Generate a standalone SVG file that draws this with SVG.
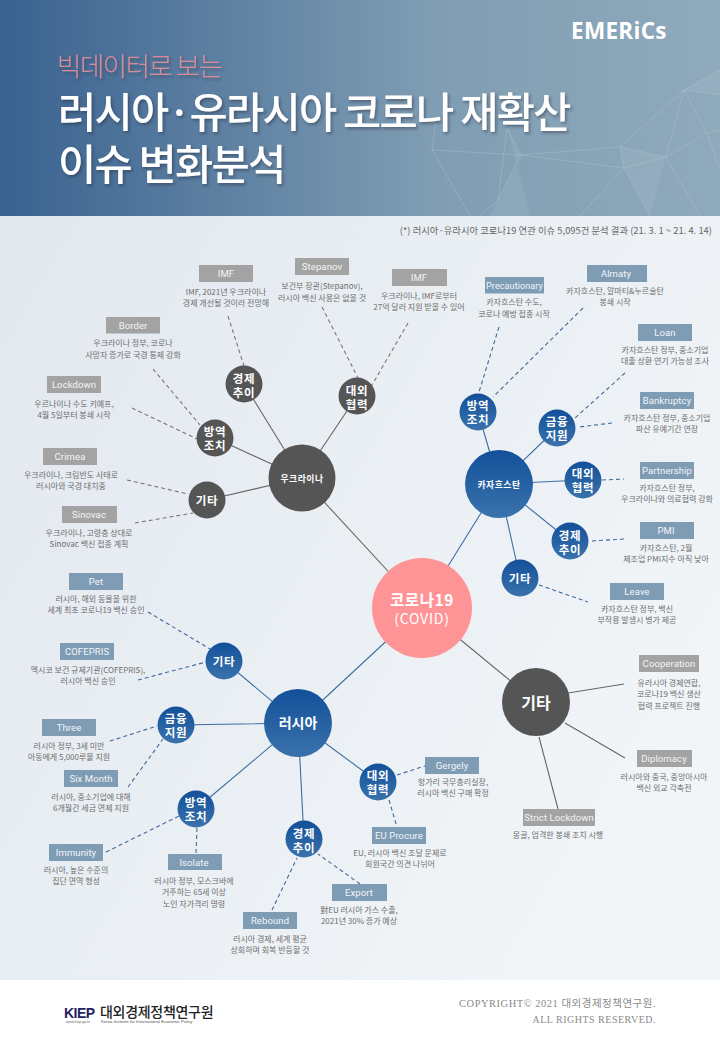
<svg xmlns="http://www.w3.org/2000/svg" width="720" height="1040" viewBox="0 0 720 1040">
<style>
text{font-family:"Noto Sans CJK KR","Noto Sans",sans-serif}
.d{font-size:8px;fill:#6e6e6e;text-anchor:middle}
.l{font-size:9.5px;fill:#f2f5f8;text-anchor:middle;font-family:Roboto,"Liberation Sans",sans-serif;letter-spacing:.1px}
.g{fill:#a3a3a3}.b{fill:#7f9cb5}
.n{font-size:11.5px;font-weight:700;fill:#fff;text-anchor:middle;letter-spacing:.7px}
.s{stroke-width:1.1;fill:none}.sg{stroke:#666}.sb{stroke:#3d6ea6}
.dg{stroke:#777;stroke-width:1.1;stroke-dasharray:4 3;fill:none}
.db{stroke:#3f6a9c;stroke-width:1.1;stroke-dasharray:4 3;fill:none}
.t{fill:#fff;font-weight:500;filter:url(#sh)}
.net{stroke:#c3d3dc;stroke-width:.7;fill:none;opacity:.4}
</style>
<defs>
<linearGradient id="hd" x1="0" x2="1" y1="0" y2="0"><stop offset="0" stop-color="#3a6290"/><stop offset=".6" stop-color="#7f9db3"/><stop offset="1" stop-color="#8faabb"/></linearGradient>
<linearGradient id="bd" x1="0" x2="1" y1="0" y2=".6"><stop offset="0" stop-color="#e2e8ef"/><stop offset="1" stop-color="#f1f5f8"/></linearGradient>
<linearGradient id="bl" x1="0" x2="0" y1="0" y2="1"><stop offset="0" stop-color="#13509a"/><stop offset="1" stop-color="#3a72ab"/></linearGradient>
<filter id="sh" x="-5%" y="-20%" width="110%" height="140%"><feDropShadow dx="1.5" dy="2" stdDeviation="1.5" flood-color="#223" flood-opacity=".45"/></filter>
</defs>
<rect id="header-bg" width="720" height="216" fill="url(#hd)"/>
<rect id="body-bg" y="216" width="720" height="764" fill="url(#bd)"/>
<rect id="footer-bg" y="980" width="720" height="60" fill="#fff"/>
<path fill="#c3d3dc" opacity=".15" d="M507 128L521 155L498 200L490 216L530 216ZM684 90L720 70L720 95ZM620 147L666 157L650 216L624 168Z"/>
<path class="net" d="M432 150L521 155L620 147L684 90L720 70M432 150L436 120M432 150L470 216M507 128L521 155L498 200L507 128M521 155L624 168L650 216M620 147L666 157L684 90L707 133L720 170M620 147L624 168L666 157L700 216M684 90L720 95M707 133L666 157M498 200L480 216M624 168L580 216M707 133L720 130"/>
<text x="571" y="39" font-size="22.500" font-weight="700" fill="#fff" style="font-family:'Open Sans','Noto Sans',sans-serif" letter-spacing=".3">EMERiCs</text>
<text x="57" y="76" font-size="26.5" fill="#d98b9c" font-weight="300" letter-spacing="-1.500" style="filter:url(#sh)">빅데이터로 보는</text>
<text class="t" x="58" y="128" font-size="41.500" letter-spacing="-1.700">러시아·유라시아 코로나 재확산</text>
<text class="t" x="58" y="180" font-size="41.500" letter-spacing="-1.700">이슈 변화분석</text>
<text x="712" y="234" font-size="9.300" fill="#666" text-anchor="end" letter-spacing=".05">(*) 러시아·유라시아  코로나19  연관 이슈  5,095건  분석 결과 (21. 3. 1 ~ 21. 4. 14)</text>

<g id="connectors">
<path class="s sg" d="M422 608L302 478M422 608L536 702M302 478L244 384M302 478L357 396M302 478L215 438M302 478L207 500M568 693L624 684M565 723L625 758M539 737L558 809"/>
<path class="s sb" d="M422 608L499 484M422 608L298 723M499 484L478 412M499 484L557 428M499 484L583 480M499 484L570 541M499 484L520 578M298 723L224 661M298 723L176 725M298 723L196 809M298 723L304 839M298 723L378 782"/>
<path class="dg" d="M228 316L244 366M322 307L358 378M408 323L372 385M153 369L200 425M132 408L197 439M127 480L188 494M135 523L193 513"/>
<path class="db" d="M499 327L479 392M583 308L493 397M625 373L575 418M612 423L579 427M602 480L624 479M592 541L624 539M539 585L588 602M148 612L210 649M138 680L206 662M110 741L157 726M128 787L163 739M106 852L179 816M197 828L196 853M272 910L297 858M360 884L318 854M397 775L425 766M389 800L397 827"/>
</g>

<g id="covid"><circle cx="422" cy="608" r="50" fill="#ff9497"/><text x="422" y="606" font-size="15.500" font-weight="700" fill="#fff" text-anchor="middle" letter-spacing=".6">코로나19</text><text x="422" y="624" font-size="14" fill="#fff" text-anchor="middle" letter-spacing=".8">(COVID)</text></g>
<g id="ukraine"><circle cx="302" cy="478" r="33.5" fill="#555"/><text x="302" y="482" font-size="8.8" font-weight="700" fill="#fff" text-anchor="middle" letter-spacing=".5">우크라이나</text></g>
<g id="kazakhstan"><circle cx="499" cy="484" r="34" fill="url(#bl)"/><text x="499" y="488" font-size="8.8" font-weight="700" fill="#fff" text-anchor="middle" letter-spacing=".5">카자흐스탄</text></g>
<g id="russia"><circle cx="298" cy="723" r="34" fill="url(#bl)"/><text x="298" y="728" font-size="14" font-weight="700" fill="#fff" text-anchor="middle">러시아</text></g>
<g id="etc"><circle cx="536" cy="702" r="34" fill="#555"/><text x="536" y="709" font-size="16" font-weight="700" fill="#fff" text-anchor="middle">기타</text></g>

<g id="ua-econ"><circle cx="244" cy="384" r="18.5" fill="#555"/><text class="n" x="244" y="382.500">경제</text><text class="n" x="244" y="396.500">추이</text></g>
<g id="ua-diplo"><circle cx="357" cy="396" r="18.5" fill="#555"/><text class="n" x="357" y="394.500">대외</text><text class="n" x="357" y="408.500">협력</text></g>
<g id="ua-quar"><circle cx="215" cy="438" r="18.5" fill="#555"/><text class="n" x="215" y="436">방역</text><text class="n" x="215" y="450">조치</text></g>
<g id="ua-etc"><circle cx="207" cy="500" r="18.5" fill="#555"/><text class="n" x="207" y="504.5">기타</text></g>
<g id="kz-quar"><circle cx="478" cy="412" r="18.5" fill="url(#bl)"/><text class="n" x="478" y="410">방역</text><text class="n" x="478" y="424">조치</text></g>
<g id="kz-fin"><circle cx="557" cy="428" r="18.5" fill="url(#bl)"/><text class="n" x="557" y="426">금융</text><text class="n" x="557" y="440">지원</text></g>
<g id="kz-diplo"><circle cx="583" cy="480" r="18.5" fill="url(#bl)"/><text class="n" x="583" y="478">대외</text><text class="n" x="583" y="492">협력</text></g>
<g id="kz-econ"><circle cx="570" cy="541" r="18.5" fill="url(#bl)"/><text class="n" x="570" y="539.500">경제</text><text class="n" x="570" y="553.500">추이</text></g>
<g id="kz-etc"><circle cx="520" cy="578" r="18.5" fill="url(#bl)"/><text class="n" x="520" y="582.5">기타</text></g>
<g id="ru-etc"><circle cx="224" cy="661" r="18.5" fill="url(#bl)"/><text class="n" x="224" y="665.5">기타</text></g>
<g id="ru-fin"><circle cx="176" cy="725" r="18.5" fill="url(#bl)"/><text class="n" x="176" y="723">금융</text><text class="n" x="176" y="737">지원</text></g>
<g id="ru-quar"><circle cx="196" cy="809" r="18.5" fill="url(#bl)"/><text class="n" x="196" y="807">방역</text><text class="n" x="196" y="821">조치</text></g>
<g id="ru-econ"><circle cx="304" cy="839" r="18.5" fill="url(#bl)"/><text class="n" x="304" y="837.500">경제</text><text class="n" x="304" y="851.500">추이</text></g>
<g id="ru-diplo"><circle cx="378" cy="782" r="18.5" fill="url(#bl)"/><text class="n" x="378" y="780">대외</text><text class="n" x="378" y="794">협력</text></g>

<g id="imf1"><rect class="g" x="199" y="265" width="54" height="17"/><text class="l" x="226" y="277">IMF</text><text class="d" x="226" y="295">IMF, 2021년 우크라이나</text><text class="d" x="226" y="306">경제 개선될 것이라 전망해</text></g>
<g id="stepanov"><rect class="g" x="295" y="258" width="54" height="17"/><text class="l" x="322" y="270">Stepanov</text><text class="d" x="322" y="289">보건부 장관(Stepanov),</text><text class="d" x="322" y="301">러시아 백신 사용은 없을 것</text></g>
<g id="border"><rect class="g" x="106" y="317" width="54" height="16.500"/><text class="l" x="133" y="329">Border</text><text class="d" x="133" y="346">우크라이나 정부, 코로나</text><text class="d" x="133" y="358">사망자 증가로 국경 통제 강화</text></g>
<g id="lockdown"><rect class="g" x="47" y="376" width="54" height="17"/><text class="l" x="74" y="388">Lockdown</text><text class="d" x="74" y="407">우르나이나 수도 키예프,</text><text class="d" x="74" y="418">4월 5일부터 봉쇄 시작</text></g>
<g id="crimea"><rect class="g" x="43" y="448" width="54" height="17"/><text class="l" x="70" y="460">Crimea</text><text class="d" x="71" y="478">우크라이나, 크림반도 사태로</text><text class="d" x="71" y="489">러시아와 국경 대치중</text></g>
<g id="sinovac"><rect class="g" x="62" y="506" width="55" height="17"/><text class="l" x="89" y="518">Sinovac</text><text class="d" x="89" y="536">우크라이나, 고령층 상대로</text><text class="d" x="89" y="547">Sinovac 백신 접종 계획</text></g>
<g id="imf2"><rect class="g" x="392" y="269" width="55" height="17"/><text class="l" x="419" y="281">IMF</text><text class="d" x="419" y="299">우크라이나, IMF로부터</text><text class="d" x="419" y="310">27억 달러 지원 받을 수 있어</text></g>
<g id="precautionary"><rect class="b" x="485" y="277" width="59" height="16.500"/><text class="l" x="514.500" y="289" style="font-size:9px">Precautionary</text><text class="d" x="514" y="305">카자흐스탄 수도,</text><text class="d" x="514" y="317">코로나 예방 접종 시작</text></g>
<g id="almaty"><rect class="b" x="587" y="265" width="60" height="17"/><text class="l" x="616" y="277">Almaty</text><text class="d" x="615" y="294">카자흐스탄, 알마티&amp;누르술탄</text><text class="d" x="615" y="305">봉쇄 시작</text></g>
<g id="loan"><rect class="b" x="638" y="324" width="54" height="17"/><text class="l" x="665" y="336">Loan</text><text class="d" x="665" y="353">카자흐스탄 정부, 중소기업</text><text class="d" x="665" y="364">대출 상환 연기 가능성 조사</text></g>
<g id="bankruptcy"><rect class="b" x="640" y="392" width="54" height="17"/><text class="l" x="667" y="404">Bankruptcy</text><text class="d" x="667" y="421">카자흐스탄 정부, 중소기업</text><text class="d" x="667" y="432">파산 유예기간 연장</text></g>
<g id="partnership"><rect class="b" x="640" y="462" width="54" height="17"/><text class="l" x="667" y="474">Partnership</text><text class="d" x="667" y="491">카자흐스탄 정부,</text><text class="d" x="667" y="502">우크라이나와 의료협력 강화</text></g>
<g id="pmi"><rect class="b" x="640" y="522" width="54" height="17"/><text class="l" x="666" y="534">PMI</text><text class="d" x="666" y="551">카자흐스탄, 2월</text><text class="d" x="666" y="562">제조업 PMI지수 아직 낮아</text></g>
<g id="leave"><rect class="b" x="610" y="583" width="54" height="17"/><text class="l" x="637" y="595">Leave</text><text class="d" x="637" y="612">카자흐스탄 정부, 백신</text><text class="d" x="637" y="623">부작용 발생시 병가 제공</text></g>
<g id="cooperation"><rect class="g" x="639" y="655" width="60" height="17"/><text class="l" x="669" y="667">Cooperation</text><text class="d" x="669" y="686">유라시아 경제연합,</text><text class="d" x="669" y="697">코로나19 백신 생산</text><text class="d" x="669" y="709">협력 프로젝트 진행</text></g>
<g id="diplomacy"><rect class="g" x="637" y="750" width="55" height="17"/><text class="l" x="664" y="762">Diplomacy</text><text class="d" x="664" y="780">러시아와 중국, 중앙아시아</text><text class="d" x="664" y="791">백신 외교 각축전</text></g>
<g id="strict"><rect class="g" x="523" y="809" width="72" height="17"/><text class="l" x="559" y="821">Strict  Lockdown</text><text class="d" x="558" y="838">몽골, 엄격한 봉쇄 조치 시행</text></g>
<g id="gergely"><rect class="b" x="425" y="757" width="54" height="17"/><text class="l" x="452" y="769">Gergely</text><text class="d" x="453" y="785">헝가리 국무총리실장,</text><text class="d" x="453" y="796">러시아 백신 구매 확정</text></g>
<g id="eu-procure"><rect class="b" x="372" y="827" width="54" height="17"/><text class="l" x="399" y="839">EU Procure</text><text class="d" x="400" y="856">EU, 러시아 백신 조달 문제로</text><text class="d" x="400" y="867">회원국간 의견 나뉘어</text></g>
<g id="export"><rect class="b" x="332" y="884" width="55" height="17"/><text class="l" x="359" y="896">Export</text><text class="d" x="359" y="913">對EU 러시아 가스 수출,</text><text class="d" x="359" y="924">2021년 30% 증가 예상</text></g>
<g id="rebound"><rect class="b" x="243" y="912" width="54" height="17"/><text class="l" x="270" y="924">Rebound</text><text class="d" x="270" y="942">러시아 경제, 세계 평균</text><text class="d" x="270" y="953">상회하며 회복 반등할 것</text></g>
<g id="isolate"><rect class="b" x="168" y="854" width="54" height="16"/><text class="l" x="194" y="866">Isolate</text><text class="d" x="194" y="884">러시아 정부, 모스크바에</text><text class="d" x="194" y="895">거주하는 65세 이상</text><text class="d" x="194" y="907">노인 자가격리 명령</text></g>
<g id="immunity"><rect class="b" x="49" y="844" width="54" height="17"/><text class="l" x="76" y="856">Immunity</text><text class="d" x="76" y="873">러시아, 높은 수준의</text><text class="d" x="76" y="884">집단 면역 형성</text></g>
<g id="six-month"><rect class="b" x="64" y="770" width="54" height="17"/><text class="l" x="91" y="782">Six Month</text><text class="d" x="91" y="800">러시아, 중소기업에 대해</text><text class="d" x="91" y="811">6개월간 세금 면제 지원</text></g>
<g id="three"><rect class="b" x="42" y="719" width="54" height="17"/><text class="l" x="69" y="731">Three</text><text class="d" x="69" y="749">러시아 정부, 3세 미만</text><text class="d" x="69" y="760">아동에게 5,000루블 지원</text></g>
<g id="cofepris"><rect class="b" x="60" y="643" width="54" height="17"/><text class="l" x="87" y="655">COFEPRIS</text><text class="d" x="88" y="673">멕시코 보건 규제기관(COFEPRIS),</text><text class="d" x="88" y="684">러시아 백신 승인</text></g>
<g id="pet"><rect class="b" x="69" y="573" width="54" height="17"/><text class="l" x="96" y="585">Pet</text><text class="d" x="96" y="602">러시아, 해외 동물을 위한</text><text class="d" x="96" y="613">세계 최초 코로나19 백신 승인</text></g>

<g id="footer">
<text x="64" y="1018" font-size="14" font-weight="900" fill="#23235f" style="font-family:'Liberation Sans',sans-serif" letter-spacing="-.5">KIEP</text>
<text x="100" y="1017" font-size="14" font-weight="500" fill="#222" letter-spacing="-.3">대외경제정책연구원</text>
<text x="66" y="1023" font-size="3.6" fill="#666" style="font-family:'Liberation Sans',sans-serif">www.kiep.go.kr</text>
<text x="101" y="1023" font-size="4.300" fill="#555" style="font-family:'Liberation Sans',sans-serif">Korea Institute for International Economic Policy</text>
<text x="656" y="1007" font-size="10.500" fill="#8a8a8a" text-anchor="end" letter-spacing=".5" style="font-family:'Liberation Serif','Noto Sans CJK KR',serif">COPYRIGHT© 2021 대외경제정책연구원.</text>
<text x="656" y="1023" font-size="10" fill="#8a8a8a" text-anchor="end" letter-spacing=".5" style="font-family:'Liberation Serif',serif">ALL RIGHTS RESERVED.</text>
</g>
</svg>
